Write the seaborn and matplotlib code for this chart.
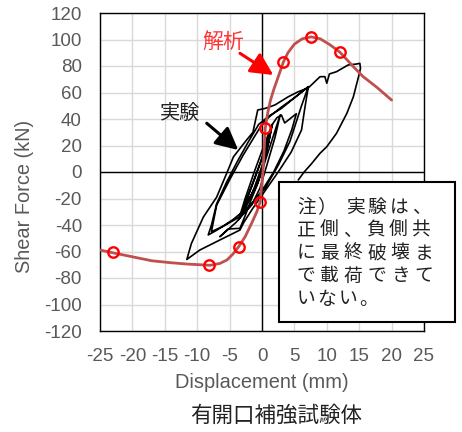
import numpy as np
import pandas as pd
import seaborn as sns
import matplotlib.pyplot as plt
from matplotlib.patches import Rectangle

# analysis curve (解析)
ana_x = [-25, -23, -20, -17, -14, -11.5, -9.5, -8, -6.5, -5.4, -4.5, -3.6, -2.6, -1.6,
         -0.8, -0.3, 0.15, 0.5, 0.9, 1.3, 1.8, 2.3, 2.8, 3.3, 4.0, 5.0, 6.2, 7.6, 9.0,
         10.5, 12.0, 14.1, 15.6, 17.7, 20.0]
ana_y = [-58.9, -61, -64, -67, -68.5, -69.5, -70, -70.4, -69, -66.4, -62, -56.4, -48.8, -38.7,
         -30, -22.7, 0, 33, 45, 54, 62, 69, 76, 83, 90, 96.5, 100.5, 102, 100.5,
         96, 90.5, 79.5, 72, 64, 54.3]

# marked points on the analysis curve
mark_x = [-23.0, -8.2, -3.6, -0.3, 0.5, 3.3, 7.6, 12.0]
mark_y = [-60.6, -70.4, -56.4, -22.7, 33, 82.8, 101.7, 90.2]

# experiment hysteresis (実験)
exp_x = [0, 0.6, 1.2, 1.5, 1.0, 0.2, -0.8, -2.0, -2.9, -2.2, -1.2, 0.0, 0.8, 1.4, 0.9,
         0.0, -1.0, -2.3, -3.2, -2.5, -1.4, -0.2, 1.0, 1.6, 1.1, 0.1, -1.2, -2.6, -3.6,
         -2.6, -1.2, 0.3, 1.6, 2.3, 3.0, 3.5, 5.3, 4.6, 3.4, 1.8, 0.0, -2.0, -4.0, -6.5,
         -5.2, -3.4, -2.6, -1.6, -0.6, 0.6, 1.8, 2.8, 2.0, 0.8, -0.3, -1.6, -3.5, -6.0, -7.8,
         -7.0, -4.9, -2.9, -1.0, 0.0, 1.2, 3.0, 5.0, 7.15,
         6.1, 4.3, 2.5, 0.5, -2.0, -4.5, -7.0, -8.3,
         -7.8, -7.0, -5.5, -3.8, -2.2, -0.5, 1.0, 3.0, 5.0, 6.3, 7.15,
         6.6, 6.1, 4.5, 2.5, 0.5, -1.5, -2.8, -3.4, -6.5, -9.6, -11.6,
         -10.9, -9.05, -7.0, -5.45, -4.4, -2.4, -1.4, -0.66, 0.5, 2.0, 4.06, 5.6, 7.15,
         8.95, 9.7, 10.0, 10.4, 11.5, 13.3, 14.6, 15.1, 15.2,
         14.9, 14.1, 13.1, 11.5, 10.0, 8.95, 7.6, 6.5, 5.6]
exp_y = [0, 15, 28, 35, 22, 5, -10, -20, -27, -19, -6, 10, 22, 32, 20,
         2, -12, -24, -32, -22, -8, 8, 26, 36, 24, 6, -12, -28, -36,
         -20, 0, 20, 36, 41, 43, 37, 44, 32, 16, 0, -14, -27, -38, -48.8,
         -43, -42.5, -33, -20, -8, 10, 28, 43, 26, 6, -12, -25, -34, -41, -45,
         -25, -5, 12.8, 28, 36, 42, 49, 56, 64.4,
         50, 23, 5, -12, -26, -36, -44, -47.5,
         -40, -24, -8, 8, 22, 36, 42, 48, 56, 61, 64.4,
         48, 31.7, 15, 0, -14, -28, -38, -43.8, -51.3, -58.9, -66,
         -54, -34, -19, -1, 11.5, 24, 30, 46.8, 48, 50.6, 56.8, 60.6, 63.5,
         71.9, 72, 67, 74, 75.7, 80.8, 81.5, 82, 78.2,
         72, 56.8, 44.3, 29.2, 19.1, 14.1, 6, 0, -6]

x_ticks = list(range(-25, 30, 5))
y_ticks = list(range(-120, 140, 20))
note_lines = ["注）", "実験は、", "正側、負側共", "に最終破壊ま", "で載荷できて", "いない。"]

sns.set_theme(style="white")
plt.rcParams['font.family'] = ['Liberation Sans', 'Noto Sans CJK JP', 'DejaVu Sans']
plt.rcParams['axes.unicode_minus'] = False

W, H = 462, 432
fig = plt.figure(figsize=(W / 100, H / 100), dpi=100)
ax = fig.add_axes([100 / W, 1 - 331 / H, 324 / W, 318 / H])

ana = pd.DataFrame({"x": ana_x, "y": ana_y})
exp = pd.DataFrame({"x": exp_x, "y": exp_y})

sns.lineplot(data=exp, x="x", y="y", sort=False, estimator=None, color="black",
             lw=1.2, ax=ax, zorder=3)
sns.lineplot(data=ana, x="x", y="y", sort=False, estimator=None, color="#C0504D",
             lw=2.0, ax=ax, zorder=4)
ax.plot(mark_x, mark_y, linestyle="none", marker="o", ms=7.5, mfc="none",
        mec="#FF0000", mew=1.7, zorder=5)

ax.set_xlim(-25, 25)
ax.set_ylim(-120, 120)
ax.set_xticks(x_ticks)
ax.set_yticks(y_ticks)
ax.grid(True, color="#D9D9D9", lw=1.0)
ax.set_axisbelow(True)
ax.axhline(0, color="black", lw=1.0, zorder=2)
ax.axvline(0, color="black", lw=1.0, zorder=2)
for s in ax.spines.values():
    s.set_color("black")
    s.set_linewidth(1.0)
ax.tick_params(axis="both", length=0, labelsize=13.5, labelcolor="#595959")
ax.tick_params(axis="y", pad=13)
ax.tick_params(axis="x", pad=12)
ax.set_xlabel("")
ax.set_ylabel("")

fig.text(262 / W, 1 - 383 / H, "Displacement (mm)", ha="center", va="center",
         fontsize=14.4, color="#595959")
fig.text(25 / W, 1 - 196 / H, "Shear Force (kN)", ha="center", va="center",
         rotation=90, fontsize=14.4, color="#595959")
fig.text(276 / W, 1 - 416 / H, "有開口補強試験体", ha="center", va="center",
         fontsize=15.5, color="#222222", family=["Noto Sans CJK JP", "DejaVu Sans"])

# labels with arrows
ax.annotate("", xy=(1.75, 73.2), xytext=(-3.4, 89.6),
            arrowprops=dict(arrowstyle="-|>,head_length=0.8,head_width=0.4",
                            color="#FF0000", lw=2.2, mutation_scale=17,
                            shrinkA=0, shrinkB=0), zorder=6)
ax.text(-6.0, 98.3, "解析", ha="center", va="center", fontsize=15, color="#FF3333",
        family=["Noto Sans CJK JP", "DejaVu Sans"])
ax.annotate("", xy=(-3.66, 16.6), xytext=(-8.53, 36.8),
            arrowprops=dict(arrowstyle="-|>,head_length=0.8,head_width=0.4",
                            color="black", lw=2.2, mutation_scale=17,
                            shrinkA=0, shrinkB=0), zorder=6)
ax.text(-12.65, 44.5, "実験", ha="center", va="center", fontsize=14.5, color="#222222",
        family=["Noto Sans CJK JP", "DejaVu Sans"])

# note box
fig.add_artist(Rectangle((279 / W, 1 - 321.7 / H), 176 / W, 140 / H,
                         transform=fig.transFigure, facecolor="white",
                         edgecolor="black", lw=1.5, zorder=10))
jp = ["Noto Sans CJK JP", "DejaVu Sans"]
rows = [(note_lines[0], 306.7, 207, 19.5), (note_lines[1], 355, 207, 22),
        (note_lines[2], 306, 230, 23), (note_lines[3], 306, 253, 23.5),
        (note_lines[4], 306, 276, 23.5), (note_lines[5], 306, 299, 21)]
for txt, x0, yc, pitch in rows:
    for i, ch in enumerate(txt):
        fig.text((x0 + i * pitch) / W, 1 - yc / H, ch, ha="center", va="center",
                 fontsize=13.5, color="#222222", family=jp, zorder=11)

fig.savefig("out.png", dpi=100)
